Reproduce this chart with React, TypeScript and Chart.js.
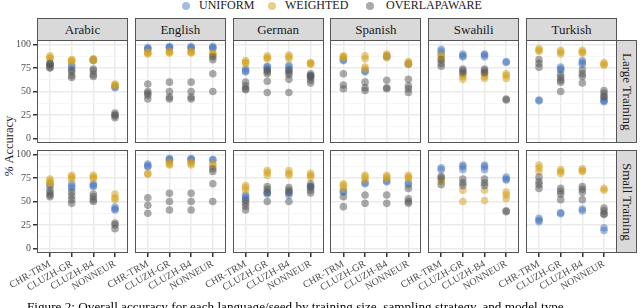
import React, { useEffect, useRef } from "react";
import { Chart, registerables } from "chart.js";
Chart.register(...registerables);

const LANGUAGES = ["Arabic", "English", "German", "Spanish", "Swahili", "Turkish"];
const SIZES = ["Large Training", "Small Training"];
const MODELS = ["CHR-TRM", "CLUZH-GR", "CLUZH-B4", "NONNEUR"];
const SERIES = ["UNIFORM", "WEIGHTED", "OVERLAPAWARE"];
const Y_TICKS = [0, 12.5, 25, 37.5, 50, 62.5, 75, 87.5, 100];
const CAPTION =
  "Figure 2: Overall accuracy for each language/seed by training size, sampling strategy, and model type.";

// values per language -> per model (CHR-TRM, CLUZH-GR, CLUZH-B4, NONNEUR) -> seeds
const UNIFORM_LARGE = [
  [[79, 80], [76, 78], [83, 84], [54, 55]],
  [[96, 97, 95], [97, 98, 97], [97, 96, 98], [97, 98, 96]],
  [[74, 72, 71], [77, 76, 74], [78, 76, 73], [66, 67]],
  [[83, 84], [72, 71], [88, 87], [80, 79]],
  [[95, 93, 90], [90, 88, 87], [90, 89, 87], [82, 81]],
  [[41, 40], [76, 74, 73], [83, 81, 79], [41, 40, 39]],
];
const WEIGHTED_LARGE = [
  [[88, 86, 85], [84, 82, 83], [85, 83, 84], [58, 56, 57]],
  [[91, 92, 90], [92, 91, 93], [93, 92, 91], [90, 91, 89]],
  [[83, 81, 80], [88, 86, 85], [89, 87, 85], [81, 80, 79]],
  [[88, 86, 87], [88, 85, 76, 74], [90, 88, 86], [82, 80, 79]],
  [[89, 87, 84], [68, 66, 63], [69, 66, 64], [69, 67, 64]],
  [[96, 94, 93], [94, 92, 90], [94, 92, 91], [81, 79, 78]],
];
const OVERLAP_LARGE = [
  [[80, 78, 76, 75], [73, 71, 67, 65], [74, 72, 68, 66], [27, 25, 24, 22]],
  [[58, 50, 48, 46, 42], [60, 50, 44, 42], [60, 50, 44, 42], [87, 84, 69, 50]],
  [[60, 56, 53, 52], [73, 71, 69, 61, 49], [73, 70, 68, 63, 49], [69, 67, 65, 62, 59]],
  [[69, 57, 53], [60, 54, 51], [62, 54, 53], [63, 56, 53, 49]],
  [[84, 80, 77], [74, 72, 70], [74, 72, 70], [42, 41]],
  [[84, 80, 76], [68, 65, 62, 60, 50], [73, 69, 66, 59], [51, 48, 45, 44]],
];
const UNIFORM_SMALL = [
  [[68, 66], [69, 66, 64], [69, 67, 66], [44, 42, 41]],
  [[90, 88, 87], [96, 95, 94], [96, 95, 94], [95, 94]],
  [[57, 55, 53], [59, 58], [59, 57], [66, 65]],
  [[60, 61], [70, 69], [72, 71], [70, 68]],
  [[86, 84], [89, 87, 84], [89, 87, 84], [76, 74, 73]],
  [[32, 30, 28.5], [38, 37], [42, 40], [22, 19]],
];
const WEIGHTED_SMALL = [
  [[74, 72, 70, 69], [78, 76, 74], [78, 76, 74.5], [58, 54, 52]],
  [[80, 79], [92, 90, 89], [92, 91, 89], [90, 88]],
  [[67, 65, 62], [83, 81, 78], [83, 80, 78], [80, 78, 76]],
  [[69, 67, 64], [78, 76, 73], [78, 76, 74.5], [78, 76, 74.5]],
  [[73, 71], [62, 50], [62, 51], [60, 57, 53]],
  [[89, 86, 82], [84, 82, 80], [85, 83, 82], [64, 62]],
];
const OVERLAP_SMALL = [
  [[62, 59, 57, 55], [60, 56, 52, 48], [58, 55, 52, 50], [27, 25, 21]],
  [[54, 46, 37.5], [58.7, 50, 41], [58.7, 50, 41], [85, 82, 69, 50]],
  [[51, 48, 45, 41], [66, 63, 60, 50], [65, 62, 60, 50], [69, 66, 62, 59]],
  [[55, 44.5], [57, 48], [57, 48], [64, 53, 50, 48]],
  [[77, 75, 68], [74, 70, 67], [74, 70, 67], [40, 39]],
  [[76, 71, 68, 64], [64, 61, 58, 52], [66, 63, 60, 52], [43, 40, 37, 36]],
];

const COLORS = ["rgba(72,120,189,0.5)", "rgba(212,160,23,0.5)", "rgba(85,85,85,0.5)"];
const FONT = "'Liberation Serif', 'DejaVu Serif', serif";

const W = 640;
const H = 308;
const PANEL_LEFT0 = 37;
const PANEL_STEP = 97.8;
const PANEL_W = 91;
const PANEL_TOPS = [40, 150];
const PANEL_H = 103;
const Y_AXIS_W = 37;
const X_AXIS_H = 42;

function panelData(row: number, lang: number) {
  const sets = row === 0
    ? [UNIFORM_LARGE, WEIGHTED_LARGE, OVERLAP_LARGE]
    : [UNIFORM_SMALL, WEIGHTED_SMALL, OVERLAP_SMALL];
  return sets.map((s) =>
    s[lang].flatMap((vals, m) => vals.map((v) => ({ x: m + 1, y: v })))
  );
}

const borderPlugin = {
  id: "panelBorder",
  afterDraw(chart: any) {
    const a = chart.chartArea;
    const ctx = chart.ctx;
    ctx.save();
    ctx.strokeStyle = "#555";
    ctx.lineWidth = 1;
    ctx.strokeRect(Math.round(a.left) + 0.5, Math.round(a.top) + 0.5, Math.round(a.right - a.left) - 1, Math.round(a.bottom - a.top) - 1);
    ctx.restore();
  },
};

function Panel({ row, col }: { row: number; col: number }) {
  const ref = useRef<HTMLCanvasElement>(null);
  useEffect(() => {
    const left = PANEL_LEFT0 + col * PANEL_STEP;
    const top = PANEL_TOPS[row];
    const showY = col === 0;
    const showX = row === 1;
    const data = panelData(row, col);
    const chart = new Chart(ref.current!, {
      type: "scatter",
      data: {
        datasets: SERIES.map((name, i) => ({
          label: name,
          data: data[i],
          backgroundColor: COLORS[i],
          borderWidth: 0,
          pointRadius: 3.8,
          order: 3 - i,
        })),
      },
      plugins: [borderPlugin],
      options: {
        responsive: false,
        animation: false,
        events: [],
        layout: {
          padding: {
            left: showY ? left - Y_AXIS_W : left,
            top: top,
            right: W - (left + PANEL_W),
            bottom: showX ? H - (top + PANEL_H) - X_AXIS_H : H - (top + PANEL_H),
          },
        },
        plugins: { legend: { display: false }, tooltip: { enabled: false } },
        scales: {
          x: {
            type: "linear",
            min: 0.4,
            max: 4.6,
            afterBuildTicks: (axis: any) => {
              axis.ticks = MODELS.map((_, i) => ({ value: i + 1 }));
            },
            afterFit: (s: any) => {
              s.height = showX ? X_AXIS_H : 0;
            },
            border: { display: false },
            grid: {
              color: "#ebebeb",
              lineWidth: 1.5,
              drawTicks: showX,
              tickLength: 4,
              tickColor: "#333",
            },
            ticks: {
              display: showX,
              autoSkip: false,
              minRotation: 30,
              maxRotation: 30,
              padding: 1,
              color: "#4d4d4d",
              font: { family: FONT, size: 10 },
              callback: (v: any) => MODELS[Math.round(v) - 1] ?? "",
            },
          },
          y: {
            type: "linear",
            min: -5,
            max: 105,
            afterBuildTicks: (axis: any) => {
              axis.ticks = Y_TICKS.map((v) => ({ value: v }));
            },
            afterFit: (s: any) => {
              s.width = showY ? Y_AXIS_W : 0;
            },
            border: { display: false },
            grid: {
              color: (c: any) => (c.tick && c.tick.value % 25 === 0 ? "#ebebeb" : "#f4f4f4"),
              lineWidth: (c: any) => (c.tick && c.tick.value % 25 === 0 ? 1.5 : 0.8),
              drawTicks: showY,
              tickLength: 4,
              tickColor: (c: any) => (c.tick && c.tick.value % 25 === 0 ? "#333" : "rgba(0,0,0,0)"),
            },
            ticks: {
              display: showY,
              autoSkip: false,
              padding: 2,
              color: "#4d4d4d",
              font: { family: FONT, size: 10 },
              callback: (v: any) => (v % 25 === 0 ? String(v) : ""),
            },
          },
        },
      } as any,
    });
    return () => chart.destroy();
  }, [row, col]);
  return (
    <canvas
      ref={ref}
      width={W}
      height={H}
      style={{ position: "absolute", left: 0, top: 0, width: W, height: H }}
    />
  );
}

export default function App() {
  const panels = [];
  for (let r = 0; r < 2; r++)
    for (let c = 0; c < 6; c++) panels.push(<Panel key={`${r}-${c}`} row={r} col={c} />);

  const legendPos = [
    { dot: 186, text: 199 },
    { dot: 272, text: 285 },
    { dot: 370, text: 386 },
  ];

  return (
    <div
      style={{
        position: "absolute",
        left: 0,
        top: 0,
        width: W,
        height: H,
        overflow: "hidden",
        background: "#fff",
        fontFamily: FONT,
        color: "#1a1a1a",
      }}
    >
      {/* legend */}
      {SERIES.map((s, i) => (
        <React.Fragment key={s}>
          <div
            style={{
              position: "absolute",
              left: legendPos[i].dot - 4,
              top: 1.5,
              width: 8,
              height: 8,
              borderRadius: 4,
              background: COLORS[i],
            }}
          />
          <div
            style={{
              position: "absolute",
              left: legendPos[i].text,
              top: -2,
              fontSize: 12,
              lineHeight: "14px",
              whiteSpace: "nowrap",
            }}
          >
            {s}
          </div>
        </React.Fragment>
      ))}

      {/* top strips */}
      {LANGUAGES.map((l, c) => (
        <div
          key={l}
          style={{
            position: "absolute",
            left: PANEL_LEFT0 + c * PANEL_STEP,
            top: 18,
            width: PANEL_W,
            height: 23,
            boxSizing: "border-box",
            background: "#d9d9d9",
            border: "1px solid #555",
            fontSize: 13,
            lineHeight: "21px",
            textAlign: "center",
          }}
        >
          {l}
        </div>
      ))}

      {/* right strips */}
      {SIZES.map((s, r) => (
        <div
          key={s}
          style={{
            position: "absolute",
            left: PANEL_LEFT0 + 5 * PANEL_STEP + PANEL_W - 1,
            top: PANEL_TOPS[r],
            width: 21,
            height: PANEL_H,
            boxSizing: "border-box",
            background: "#d9d9d9",
            border: "1px solid #555",
            fontSize: 13,
            display: "flex",
            alignItems: "center",
            justifyContent: "center",
          }}
        >
          <span style={{ writingMode: "vertical-rl", whiteSpace: "nowrap" }}>{s}</span>
        </div>
      ))}

      {/* y title */}
      <div
        style={{
          position: "absolute",
          left: 9 - 60,
          top: 146 - 8,
          width: 120,
          height: 16,
          lineHeight: "16px",
          fontSize: 12.5,
          textAlign: "center",
          transform: "rotate(-90deg)",
          whiteSpace: "nowrap",
        }}
      >
        <i>%</i> Accuracy
      </div>

      {panels}

      {/* caption */}
      <div
        style={{
          position: "absolute",
          left: 27,
          top: 299,
          fontSize: 13.2,
          lineHeight: "15px",
          whiteSpace: "nowrap",
          color: "#000",
        }}
      >
        {CAPTION}
      </div>
    </div>
  );
}
